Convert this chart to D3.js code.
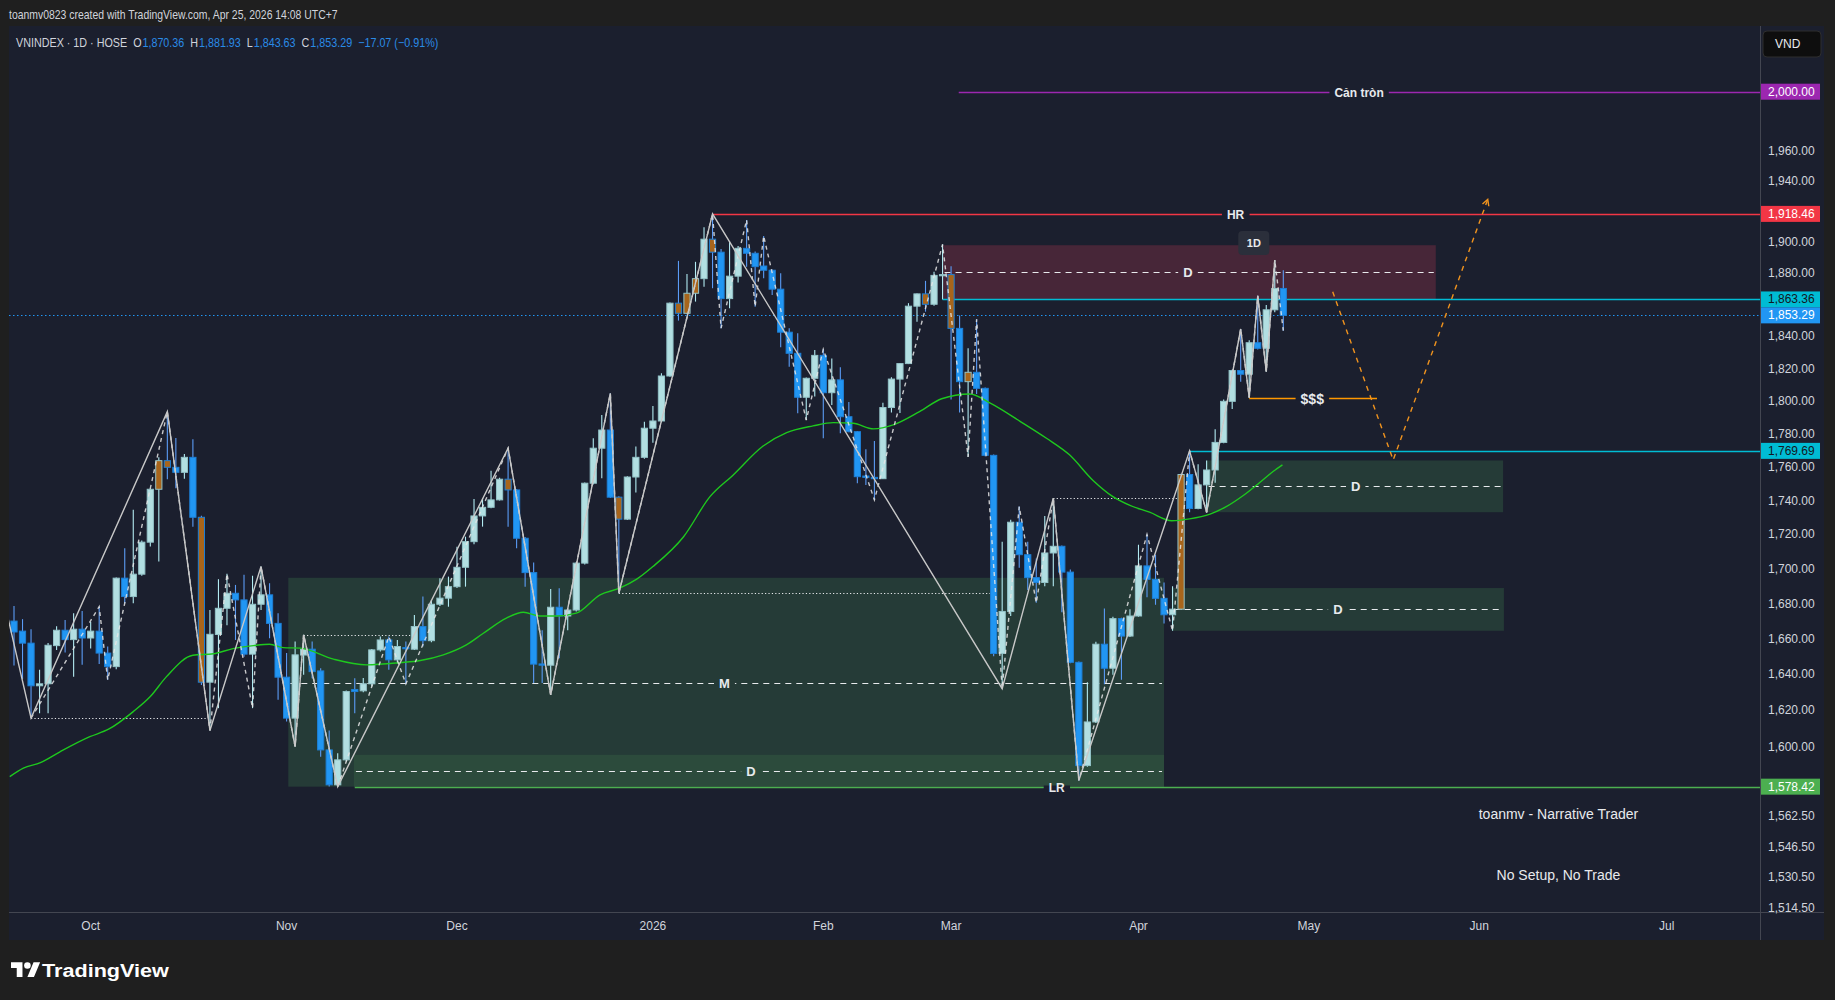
<!DOCTYPE html>
<html>
<head>
<meta charset="utf-8">
<title>VNINDEX 1D</title>
<script src="https://cdn.jsdelivr.net/npm/d3@7/dist/d3.min.js"></script>
<style>
  html, body { margin: 0; padding: 0; background: #1f1f1f; overflow: hidden; }
  svg { display: block; }
  text { font-family: "Liberation Sans", Arial, "DejaVu Sans", sans-serif; }
</style>
</head>
<body>
<svg id="chart" width="1835" height="1000"></svg>
<script>
// ---------------- DATA ----------------
const opens = [
 1670.0,1664.3,1657.5,1633.6,1634.7,1656.1,1664.8,1659.5,1665.4,1660.4,
 1664.3,1651.9,1644.3,1694.6,1684.0,1696.9,1715.5,1746.7,1763.8,1759.8,
 1756.8,1765.8,1730.1,1635.6,1662.4,1677.3,1685.9,1682.1,1651.3,1679.6,
 1685.0,1668.7,1638.4,1615.7,1650.8,1654.1,1641.9,1598.3,1579.4,1592.9,
 1631.5,1630.8,1634.7,1653.7,1659.3,1648.1,1655.0,1654.1,1666.9,1658.9,
 1679.6,1683.1,1689.7,1700.9,1715.8,1730.9,1736.0,1740.4,1752.7,1746.3,
 1717.8,1697.8,1645.8,1645.1,1677.9,1672.9,1676.3,1703.3,1750.3,1771.3,
 1782.3,1742.0,1729.0,1754.0,1765.8,1783.4,1787.8,1815.4,1861.0,1854.6,
 1867.3,1876.6,1902.0,1893.6,1863.9,1878.2,1896.1,1892.9,1884.7,1882.0,
 1869.9,1842.7,1829.5,1802.3,1814.0,1828.2,1805.1,1813.0,1790.4,1781.3,
 1754.6,1753.8,1753.0,1796.0,1813.5,1823.1,1859.1,1866.9,1860.3,1878.7,
 1879.2,1845.1,1811.9,1817.7,1807.8,1767.0,1651.7,1675.5,1727.2,1708.2,
 1694.9,1692.1,1709.2,1713.1,1698.1,1646.7,1589.8,1613.6,1656.9,1643.4,
 1671.4,1661.5,1672.9,1701.7,1693.9,1683.0,1673.6,1676.8,1755.5,1735.3,
 1749.3,1758.2,1774.8,1799.8,1818.8,1816.5,1836.1,1832.6,1856.8,1870.36];
const highs = [
 1678.6,1671.1,1665.4,1642.5,1657.6,1667.1,1670.6,1674.4,1675.7,1669.6,
 1678.2,1655.6,1695.0,1712.0,1734.5,1716.5,1747.2,1765.8,1793.5,1777.5,
 1767.8,1776.7,1731.0,1676.3,1694.0,1697.1,1690.7,1696.5,1696.0,1701.3,
 1691.7,1674.4,1651.9,1658.4,1662.2,1658.4,1643.4,1608.9,1596.5,1631.0,
 1637.8,1637.9,1654.2,1661.2,1661.2,1659.3,1658.4,1673.5,1684.0,1682.1,
 1694.6,1695.5,1712.9,1718.7,1740.9,1741.4,1757.8,1753.5,1771.3,1746.8,
 1718.5,1703.6,1664.8,1688.4,1688.8,1676.8,1704.0,1750.8,1777.3,1791.5,
 1804.7,1742.5,1754.5,1772.3,1787.4,1797.0,1817.1,1861.5,1888.0,1879.6,
 1887.4,1909.8,1918.46,1895.7,1900.7,1897.6,1914.5,1894.0,1904.1,1882.5,
 1880.1,1845.2,1842.0,1814.5,1831.5,1832.0,1826.3,1820.8,1799.4,1781.7,
 1770.7,1775.6,1799.0,1814.7,1823.5,1861.0,1867.2,1875.2,1881.0,1898.6,
 1884.6,1853.2,1832.6,1850.8,1808.3,1767.5,1715.7,1728.7,1736.4,1715.7,
 1706.0,1730.9,1741.4,1713.5,1699.6,1647.2,1635.6,1658.3,1677.2,1672.5,
 1671.9,1676.8,1714.0,1720.0,1708.2,1692.1,1689.9,1756.0,1769.69,1761.7,
 1763.9,1782.8,1801.0,1819.3,1844.7,1837.7,1865.7,1859.8,1888.6,1881.93];
const lows = [
 1644.9,1637.4,1615.7,1618.4,1618.4,1653.7,1652.2,1638.7,1645.3,1654.5,
 1645.8,1636.9,1642.8,1680.2,1680.2,1696.0,1713.0,1704.2,1752.7,1747.3,
 1753.0,1724.6,1634.1,1608.9,1621.2,1667.7,1659.3,1649.9,1621.2,1676.3,
 1660.3,1625.8,1613.8,1600.1,1639.7,1637.8,1594.6,1578.5,1578.42,1592.0,
 1618.4,1630.0,1633.2,1652.8,1642.5,1646.2,1634.7,1653.7,1655.6,1658.0,
 1678.6,1678.2,1689.0,1689.7,1714.3,1724.6,1735.5,1740.0,1724.6,1712.0,
 1689.7,1635.1,1635.1,1628.6,1649.0,1664.8,1675.5,1702.5,1749.5,1753.3,
 1741.5,1685.9,1728.5,1744.8,1765.0,1774.6,1787.0,1815.0,1850.0,1854.0,
 1862.0,1871.5,1870.5,1845.2,1857.8,1874.1,1884.3,1858.8,1876.9,1866.2,
 1833.3,1821.2,1792.5,1788.4,1802.7,1777.3,1797.6,1780.3,1781.0,1750.3,
 1749.3,1740.4,1752.8,1793.0,1792.6,1822.8,1849.3,1855.6,1859.4,1863.4,
 1801.0,1793.0,1766.1,1804.3,1766.5,1650.1,1632.0,1672.9,1700.6,1687.8,
 1680.4,1690.0,1690.0,1675.0,1646.2,1581.8,1589.2,1613.0,1634.5,1639.7,
 1637.0,1661.0,1672.5,1683.6,1679.3,1668.7,1664.5,1676.3,1733.1,1734.8,
 1733.0,1750.6,1774.3,1795.1,1811.9,1802.1,1831.9,1818.1,1855.2,1843.63];
const closes = [
 1663.8,1657.5,1633.6,1634.7,1656.3,1664.8,1659.5,1665.4,1660.4,1664.3,
 1651.9,1644.3,1694.6,1684.0,1696.9,1715.5,1746.7,1763.8,1759.8,1756.8,
 1765.8,1730.1,1635.6,1662.5,1677.3,1685.9,1682.1,1651.3,1679.6,1685.0,
 1668.7,1638.4,1615.7,1650.9,1654.1,1641.5,1598.3,1579.4,1592.9,1630.4,
 1630.4,1634.7,1653.7,1659.3,1648.1,1655.6,1654.5,1666.9,1658.9,1679.6,
 1683.1,1689.7,1700.9,1715.8,1730.9,1736.0,1740.4,1752.7,1746.3,1717.8,
 1697.8,1645.7,1645.1,1677.9,1672.9,1676.3,1703.3,1750.3,1771.3,1782.3,
 1742.0,1729.0,1754.0,1765.8,1783.4,1787.8,1815.4,1861.0,1854.6,1867.3,
 1876.6,1902.0,1893.6,1863.9,1878.2,1896.1,1892.9,1884.3,1882.0,1869.9,
 1842.7,1829.5,1802.3,1814.0,1828.2,1805.1,1813.0,1790.4,1781.3,1754.2,
 1753.8,1753.0,1796.0,1813.5,1823.1,1859.1,1866.9,1860.3,1878.7,1879.2,
 1845.1,1811.9,1817.7,1807.8,1767.0,1651.7,1675.5,1727.2,1708.2,1694.9,
 1692.1,1709.2,1713.1,1698.1,1646.7,1589.8,1613.6,1656.9,1643.4,1671.4,
 1661.5,1672.9,1701.7,1693.9,1683.0,1673.6,1676.8,1755.5,1735.3,1749.3,
 1758.2,1774.8,1799.8,1818.8,1816.5,1836.1,1832.6,1856.8,1870.36,1853.29];
const highlightBars = [17,18,22,58,71,78,79,80,82,107,110,112,137];

const monthLabels = ["Oct","Nov","Dec","2026","Feb","Mar","Apr","May","Jun","Jul"];
const monthBars   = [9, 32, 52, 75, 95, 110, 132, 152, 172, 194];
const priceTicks  = [1960,1940,1900,1880,1840,1820,1800,1780,1760,1740,1720,1700,1680,1660,1640,1620,1600,1562.5,1546.5,1530.5,1514.5];

const maBars = [-0.5,1.1,3.1,5.4,8.9,11.1,14.0,16.0,17.9,21.0,23.4,25.7,28.1,30.0,31.6,33.6,37.5,41.4,45.3,47.7,50.4,53.1,55.1,57.8,59.8,61.7,63.7,66.0,68.8,71.1,73.1,75.0,78.6,81.7,84.4,87.9,90.7,93.8,96.2,98.5,100.9,103.2,106.3,108.9,112.2,114.6,118.1,121.2,123.9,126.7,129.0,131.0,133.3,135.9,138.0,140.4,142.3,144.3,146.2,147.8,148.9];
const maValues = [1583.8,1588.4,1591.4,1597.3,1605.5,1609.6,1619.3,1627.6,1638.7,1650.7,1651.5,1654.4,1656.1,1656.9,1655.0,1654.7,1648.5,1645.3,1646.5,1647.7,1650.9,1656.5,1663.1,1671.7,1675.0,1672.9,1672.9,1674.5,1685.0,1688.8,1694.0,1701.3,1718.7,1742.3,1755.1,1772.5,1780.7,1784.8,1786.8,1786.4,1783.0,1785.4,1793.5,1801.4,1804.3,1798.7,1787.6,1777.3,1767.3,1751.8,1742.3,1737.1,1733.1,1728.1,1729.2,1732.0,1736.4,1743.0,1750.6,1757.3,1761.3];

const zigzagBars   = [-1, 2, 18, 23, 29, 33, 34, 38, 58, 63, 70, 71, 82, 116, 122, 125, 138, 140, 144, 145, 146, 147, 148];
const zigzagValues = [1678, 1615.7, 1793.5, 1608.9, 1701.3, 1600.1, 1662.2, 1578.42, 1771.3, 1628.6, 1804.7, 1685.9, 1918.46, 1632.0, 1741.4, 1581.8, 1769.69, 1733.0, 1844.7, 1802.1, 1865.7, 1818.1, 1888.6];
const minorZigzagBars   = [2,10,11,18,23,25,28,29,33,34,38,44,46,58,63,70,71,82,83,86,87,88,93,95,101,109,112,113,116,118,120,122,125,133,136,138,140,144,145,146,147,148,149];
const minorZigzagValues = [1615.7,1678.2,1636.9,1793.5,1608.9,1697.1,1621.2,1701.3,1600.1,1662.2,1578.42,1661.2,1634.7,1771.3,1628.6,1804.7,1685.9,1918.46,1845.2,1914.5,1858.8,1904.1,1788.4,1832.0,1740.4,1898.6,1766.1,1850.8,1632.0,1736.4,1680.4,1741.4,1581.8,1720.0,1664.5,1769.69,1733.0,1844.7,1802.1,1865.7,1818.1,1888.6,1843.63];

const levelNames     = ["Cản tròn", "HR", "", "", "LR"];
const levelPrices    = [2000, 1918.46, 1863.36, 1769.69, 1578.42];
const levelStartBars = [110.9, 82, 109, 138, 40];
const levelLabelBars = [157.9, 143.4, null, null, 122.4];

const zoneNames     = ["M", "D", "D", "D", "D"];
const zoneStartBars = [32.2, 39.9, 109, 140, 135.9];
const zoneEndBars   = [135.0, 135.0, 166.9, 174.8, 174.9];
const zoneTops      = [1694.8, 1595.6, 1898.1, 1763.9, 1688.9];
const zoneBottoms   = [1578.42, 1578.42, 1863.36, 1733.1, 1664.5];
const zoneMids      = [1635.1, 1586.9, 1880.6, 1748.7, 1676.8];
const zoneLabelBars = [83.4, 86.5, 137.8, 157.5, 155.4];

const dottedPrices    = [1615.7, 1662.2, 1685.9, 1741.4];
const dottedStartBars = [2, 34, 71, 122];
const dottedEndBars   = [22.8, 46.5, 114.6, 137.2];

const liquidityLabel = "$$$";
const liquidityPrice = 1801.6;
const liquidityBars  = [145, 160];
const liquidityLabelBar = 152.4;

const projectionBars   = [154.8, 161.9, 173.0];
const projectionValues = [1868.2, 1764.2, 1928.0];

const noteTexts  = ["toanmv - Narrative Trader", "No Setup, No Trade"];
const noteBars   = [181.3, 181.3];
const notePrices = [1563.7, 1531.7];

// ---------------- DRAWING ----------------
const N = closes.length;
const fmt = d3.format(",.2f");
const W = 1835, H = 1000;
const plotL = 9, plotT = 26, plotR = 1760, plotB = 912, paneR = 1824, paneB = 940;
const BG = "#1b1f2e", OUTER = "#1f1f1f", TXT = "#d1d4dc", WHITE = "#e8eaed";
const UP = "#b2dfe2", UP_STROKE = "#93c3c8", UP_WICK = "#b2ebf2";
const DN = "#2196f3", DN_STROKE = "#1e7fd6", DN_WICK = "#5b9cf6";
const HL = "#a8651b";
const LEG_BLUE = "#2a8be6";

const x = d3.scaleLinear().domain([0, N - 1]).range([14, 1283.3]);
const y = d3.scaleLog().domain([1600, 2000]).range([746.8, 91.7]);

const svg = d3.select("#chart");
svg.append("rect").attr("width", W).attr("height", H).attr("fill", OUTER);

// fit a single text element horizontally into a given width with a group scale
function fittedText(parent, x0, yBase, width, build) {
  const g = parent.append("g").attr("transform", `translate(${x0},${yBase})`);
  const t = g.append("text").attr("x", 0).attr("y", 0);
  build(t);
  const w = t.node().getComputedTextLength();
  g.attr("transform", `translate(${x0},${yBase}) scale(${width / w},1)`);
  return g;
}

fittedText(svg, 9, 18.5, 329, t => {
  t.style("font-size", "12.5px").attr("fill", TXT)
   .text("toanmv0823 created with TradingView.com, Apr 25, 2026 14:08 UTC+7");
});

svg.append("rect").attr("x", plotL).attr("y", plotT)
  .attr("width", paneR - plotL).attr("height", paneB - plotT).attr("fill", BG);

const defs = svg.append("defs");
defs.append("clipPath").attr("id", "plotclip").append("rect")
  .attr("x", plotL).attr("y", plotT).attr("width", plotR - plotL).attr("height", plotB - plotT);
const plot = svg.append("g").attr("clip-path", "url(#plotclip)");

// zones
const zoneFills = ["#253b37", "#2c4b3c", "#472638", "#253b37", "#253b37"];
zoneNames.forEach((nm, k) => {
  const x0 = x(zoneStartBars[k]), x1 = x(zoneEndBars[k]);
  const yt = y(zoneTops[k]), yb = y(zoneBottoms[k]);
  plot.append("rect").attr("x", x0).attr("y", yt).attr("width", x1 - x0).attr("height", yb - yt)
    .attr("fill", zoneFills[k]);
});
zoneNames.forEach((nm, k) => {
  const yy = Math.round(y(zoneMids[k])) + 0.5;
  plot.append("line").attr("x1", x(zoneStartBars[k]) + 2).attr("x2", x(zoneEndBars[k]) - 2)
    .attr("y1", yy).attr("y2", yy).attr("stroke", WHITE).attr("stroke-width", 1.2)
    .attr("stroke-dasharray", "6,5");
});

// dotted reference lines
dottedPrices.forEach((p, k) => {
  const yy = Math.round(y(p)) + 0.5;
  plot.append("line").attr("x1", x(dottedStartBars[k])).attr("x2", x(dottedEndBars[k]))
    .attr("y1", yy).attr("y2", yy).attr("stroke", WHITE).attr("stroke-width", 1.2)
    .attr("stroke-dasharray", "1.2,2.2");
});

// horizontal levels
const levelColors = ["#9c27b0", "#f23645", "#00bcd4", "#00bcd4", "#4caf50"];
levelPrices.forEach((p, k) => {
  const yy = Math.round(y(p)) + 0.5;
  plot.append("line").attr("x1", x(levelStartBars[k])).attr("x2", plotR)
    .attr("y1", yy).attr("y2", yy).attr("stroke", levelColors[k]).attr("stroke-width", 1.3);
});

// liquidity line
{
  const yy = Math.round(y(liquidityPrice)) + 0.5;
  plot.append("line").attr("x1", x(liquidityBars[0])).attr("x2", x(liquidityBars[1]))
    .attr("y1", yy).attr("y2", yy).attr("stroke", "#ff9800").attr("stroke-width", 1.3);
}

// last price dotted line
{
  const yy = Math.round(y(closes[N - 1])) + 0.5;
  plot.append("line").attr("x1", plotL).attr("x2", plotR).attr("y1", yy).attr("y2", yy)
    .attr("stroke", DN).attr("stroke-width", 1).attr("stroke-dasharray", "1.5,2.5");
}

// candles
const hlSet = new Set(highlightBars);
const bw = 6.2;
const candles = plot.append("g");
d3.range(N).forEach(i => {
  const o = opens[i], c = closes[i], h = highs[i], l = lows[i];
  const up = c >= o;
  const xc = x(i);
  candles.append("line").attr("x1", xc).attr("x2", xc).attr("y1", y(h)).attr("y2", y(l))
    .attr("stroke", up ? UP_WICK : DN_WICK).attr("stroke-width", 1.1);
  const yt = y(Math.max(o, c)), yb = y(Math.min(o, c));
  candles.append("rect").attr("x", xc - bw / 2).attr("y", yt)
    .attr("width", bw).attr("height", Math.max(1.2, yb - yt))
    .attr("fill", hlSet.has(i) ? HL : (up ? UP : DN))
    .attr("stroke", up ? UP_STROKE : DN_STROKE).attr("stroke-width", 1);
});

// moving average
const maLine = d3.line().x(d => x(d[0])).y(d => y(d[1])).curve(d3.curveMonotoneX);
plot.append("path").datum(maBars.map((b, k) => [b, maValues[k]]))
  .attr("d", maLine).attr("fill", "none").attr("stroke", "#1ec81e").attr("stroke-width", 1.4);

// zigzags
const straight = d3.line().x(d => x(d[0])).y(d => y(d[1]));
plot.append("path").datum(minorZigzagBars.map((b, k) => [b, minorZigzagValues[k]]))
  .attr("d", straight).attr("fill", "none").attr("stroke", "#e6e6e6").attr("stroke-width", 1.4)
  .attr("stroke-dasharray", "4,4").attr("opacity", 0.85);
plot.append("path").datum(zigzagBars.map((b, k) => [b, zigzagValues[k]]))
  .attr("d", straight).attr("fill", "none").attr("stroke", "#c8c8c8").attr("stroke-width", 1.4);

// projection
{
  const pts = projectionBars.map((b, k) => [x(b), y(projectionValues[k])]);
  plot.append("path").attr("d", d3.line()(pts)).attr("fill", "none")
    .attr("stroke", "#f0931e").attr("stroke-width", 1.4).attr("stroke-dasharray", "5,5");
  const [ax, ay] = pts[pts.length - 1], [bx, by] = pts[pts.length - 2];
  const ang = Math.atan2(ay - by, ax - bx);
  const L = 7;
  const a1 = [ax - L * Math.cos(ang - 0.5), ay - L * Math.sin(ang - 0.5)];
  const a2 = [ax - L * Math.cos(ang + 0.5), ay - L * Math.sin(ang + 0.5)];
  plot.append("path").attr("d", d3.line()([a1, [ax, ay], a2])).attr("fill", "none")
    .attr("stroke", "#f0931e").attr("stroke-width", 1.4);
}

// labels with a gap in the line
function gapLabel(g, str, cx, cy, size, gapColor, gapH) {
  const t = g.append("text").attr("x", cx).attr("y", cy).attr("text-anchor", "middle")
    .attr("dominant-baseline", "central").style("font-size", size + "px")
    .style("font-weight", "bold").attr("fill", WHITE).text(str);
  const bb = t.node().getBBox();
  g.insert("rect", () => t.node()).attr("x", bb.x - 5).attr("y", cy - gapH / 2)
    .attr("width", bb.width + 10).attr("height", gapH).attr("fill", gapColor);
}
const labels = plot.append("g");
zoneNames.forEach((nm, k) => {
  gapLabel(labels, nm, x(zoneLabelBars[k]), Math.round(y(zoneMids[k])) + 0.5, 13, zoneFills[k], 4);
});
levelNames.forEach((nm, k) => {
  if (!nm) return;
  gapLabel(labels, nm, x(levelLabelBars[k]), Math.round(y(levelPrices[k])) + 0.5, 12, BG, 4);
});
gapLabel(labels, liquidityLabel, x(liquidityLabelBar), Math.round(y(liquidityPrice)) + 0.5, 14, BG, 4);

// notes
noteTexts.forEach((t, k) => {
  plot.append("text").attr("x", x(noteBars[k])).attr("y", y(notePrices[k]))
    .attr("text-anchor", "middle").attr("dominant-baseline", "central")
    .style("font-size", "14px").attr("fill", WHITE).text(t);
});

// timeframe badge pointing at the latest swing high
{
  const bx = x(N - 1) - 45, by = y(highs[N - 2]) - 29;
  const badge = plot.append("g");
  badge.append("rect").attr("x", bx).attr("y", by).attr("width", 31).attr("height", 24).attr("rx", 4)
    .attr("fill", "#2b2f3b");
  badge.append("text").attr("x", bx + 15.5).attr("y", by + 12).attr("text-anchor", "middle")
    .attr("dominant-baseline", "central").style("font-size", "11px").style("font-weight", "bold")
    .attr("fill", WHITE).text("1D");
}

// ---------- axes ----------
svg.append("line").attr("x1", plotL).attr("x2", paneR).attr("y1", plotB + 0.5).attr("y2", plotB + 0.5)
  .attr("stroke", "#434651").attr("stroke-width", 1);
svg.append("line").attr("x1", plotR + 0.5).attr("x2", plotR + 0.5).attr("y1", plotT).attr("y2", paneB)
  .attr("stroke", "#434651").attr("stroke-width", 1);

// time axis labels
monthLabels.forEach((m, k) => {
  svg.append("text").attr("x", x(monthBars[k])).attr("y", 930).attr("text-anchor", "middle")
    .style("font-size", "12px").attr("fill", TXT).text(m);
});

// price axis labels
priceTicks.forEach(p => {
  svg.append("text").attr("x", 1768).attr("y", y(p)).attr("dominant-baseline", "central")
    .style("font-size", "12px").attr("fill", TXT).text(fmt(p));
});

// colored price badges
const badgePrices = [2000, 1918.46, 1863.36, closes[N - 1], 1769.69, 1578.42];
const badgeFills  = ["#9c27b0", "#f23645", "#00bcd4", "#2196f3", "#00bcd4", "#4caf50"];
const badgeText   = ["#ffffff", "#ffffff", "#131722", "#ffffff", "#131722", "#ffffff"];
badgePrices.forEach((p, k) => {
  const yy = y(p);
  svg.append("rect").attr("x", plotR + 1).attr("y", yy - 8).attr("width", 59).attr("height", 16)
    .attr("fill", badgeFills[k]);
  svg.append("text").attr("x", 1768).attr("y", yy).attr("dominant-baseline", "central")
    .style("font-size", "12px").attr("fill", badgeText[k]).text(fmt(p));
});

// currency box
svg.append("rect").attr("x", 1763).attr("y", 31).attr("width", 58).attr("height", 26).attr("rx", 4)
  .attr("fill", "#0e0e0e").attr("stroke", "#2e2e2e");
svg.append("text").attr("x", 1775).attr("y", 44).attr("dominant-baseline", "central")
  .style("font-size", "12px").attr("fill", WHITE).text("VND");

// legend (one text line, scaled to the reference width)
{
  const last = N - 1;
  const chg = closes[last] - closes[last - 1];
  const pct = chg / closes[last - 1] * 100;
  const sign = v => (v < 0 ? "\u2212" : "+") + Math.abs(v).toFixed(2);
  fittedText(svg, 16, 46.5, 389, t => {
    t.style("font-size", "12.5px");
    t.append("tspan").attr("fill", TXT).text("VNINDEX \u00b7 1D \u00b7 HOSE");
    [["O", opens[last]], ["H", highs[last]], ["L", lows[last]], ["C", closes[last]]].forEach(([k, v]) => {
      t.append("tspan").attr("dx", 7).attr("fill", TXT).text(k);
      t.append("tspan").attr("dx", 1).attr("fill", LEG_BLUE).text(fmt(v));
    });
    t.append("tspan").attr("dx", 7).attr("fill", LEG_BLUE).text(sign(chg) + " (" + sign(pct) + "%)");
  });
}

// TradingView logo
{
  const g = svg.append("g").attr("transform", "translate(11,959) scale(0.82)").attr("fill", "#ffffff");
  g.append("path").attr("d", "M14 22H7V11H0V4h14v18zM28 22h-8l7.5-18h8L28 22z");
  g.append("circle").attr("cx", 20).attr("cy", 8).attr("r", 4);
  fittedText(svg, 42, 977, 127, t => {
    t.style("font-size", "19px").style("font-weight", "bold").attr("fill", "#ffffff").text("TradingView");
  });
}
</script>
</body>
</html>
